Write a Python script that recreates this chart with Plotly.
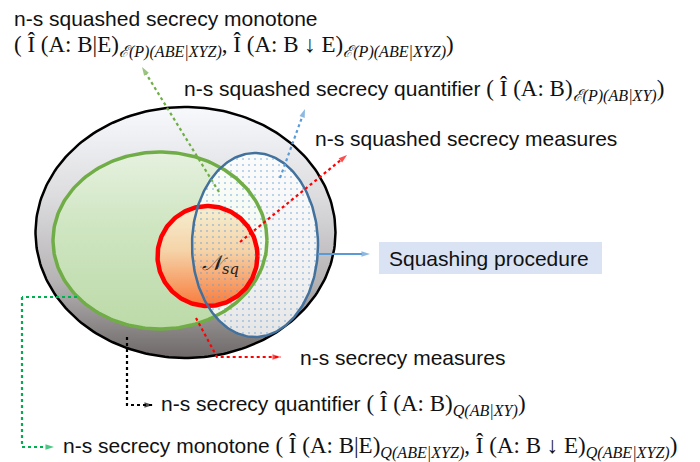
import numpy as np
import plotly.graph_objects as go

# ---- diagram content ----
region_names = ["outer", "green", "blue", "red"]
# centers / radii (pixel-like coordinates of the diagram canvas)
region_cx = [185.5, 160.0, 255.0, 207.5]
region_cy = [232.5, 240.5, 245.0, 256.0]
region_rx = [150.0, 107.0, 63.0, 50.0]
region_ry = [125.5, 88.5, 92.0, 50.0]

SANS = "Liberation Sans, Arial, sans-serif"
SERIF = "Liberation Serif, DejaVu Serif, serif"

def m(s):
    return f'<span style="font-family:{SERIF};font-size:23px">{s}</span>'

label_text = [
    "n-s squashed secrecy monotone",
    m("( Î (A: B|E)<sub><i>ℰ(P)(ABE|XYZ)</i></sub>, Î (A: B ↓ E)<sub><i>ℰ(P)(ABE|XYZ)</i></sub>)"),
    "n-s squashed secrecy quantifier " + m("( Î (A: B)<sub><i>ℰ(P)(AB|XY)</i></sub>)"),
    "n-s squashed secrecy measures",
    "n-s secrecy measures",
    "n-s secrecy quantifier " + m("( Î (A: B)<sub><i>Q(AB|XY)</i></sub>)"),
    "n-s secrecy monotone " + m("( Î (A: B|E)<sub><i>Q(ABE|XYZ)</i></sub>, Î (A: B ↓ E)<sub><i>Q(ABE|XYZ)</i></sub>)"),
]
label_x = [12, 12, 182, 313, 298, 159, 61]
label_y = [18, 46, 90, 138, 357, 405, 447]

box_text = "Squashing procedure"

fig = go.Figure()

def ellipse(i, n=240):
    t = np.linspace(0, 2 * np.pi, n)
    return region_cx[i] + region_rx[i] * np.cos(t), region_cy[i] + region_ry[i] * np.sin(t)

# outer ellipse
x, y = ellipse(0)
fig.add_trace(go.Scatter(x=x, y=y, mode="lines", fill="toself",
                         line=dict(color="black", width=2.5),
                         fillgradient=dict(type="vertical",
                                           colorscale=[[0, "#f7f9fd"], [0.35, "#dddddf"], [0.7, "#b5b2b3"], [1, "#6e6868"]],
                                           start=region_cy[0] - region_ry[0], stop=region_cy[0] + region_ry[0]),
                         hoverinfo="skip", showlegend=False))
# green fill
x, y = ellipse(1)
fig.add_trace(go.Scatter(x=x, y=y, mode="lines", fill="toself",
                         line=dict(color="rgba(0,0,0,0)", width=0),
                         fillgradient=dict(type="vertical",
                                           colorscale=[[0, "#e6f1df"], [0.4, "#d0e6c3"], [1, "#bcdaa8"]],
                                           start=region_cy[1] - region_ry[1], stop=region_cy[1] + region_ry[1]),
                         hoverinfo="skip", showlegend=False))
# blue translucent white fill
xb, yb = ellipse(2)
fig.add_trace(go.Scatter(x=xb, y=yb, mode="lines", fill="toself",
                         line=dict(color="rgba(0,0,0,0)", width=0),
                         fillcolor="rgba(255,255,255,0.8)",
                         hoverinfo="skip", showlegend=False))
# red fill
x, y = ellipse(3)
fig.add_trace(go.Scatter(x=x, y=y, mode="lines", fill="toself",
                         line=dict(color="rgba(0,0,0,0)", width=0),
                         fillgradient=dict(type="vertical",
                                           colorscale=[[0, "#f5efd2"], [0.45, "#f5d3a8"], [1, "#f87b3c"]],
                                           start=region_cy[3] - region_ry[3], stop=region_cy[3] + region_ry[3]),
                         hoverinfo="skip", showlegend=False))
# blue dots pattern
fig.add_trace(go.Scatter(x=xb, y=yb, mode="lines", fill="toself",
                         line=dict(color="rgba(0,0,0,0)", width=0),
                         fillcolor="rgba(0,0,0,0)",
                         fillpattern=dict(shape=".", fgcolor="#5b9bd5", bgcolor="rgba(0,0,0,0)",
                                          size=6, solidity=0.1, fillmode="overlay"),
                         hoverinfo="skip", showlegend=False))
# outlines
for i, col, w in [(1, "#70ad47", 3.5), (3, "#ff0000", 4.5), (2, "#41719c", 2.5)]:
    x, y = ellipse(i)
    fig.add_trace(go.Scatter(x=x, y=y, mode="lines", line=dict(color=col, width=w),
                             hoverinfo="skip", showlegend=False))

# arrows (dotted polylines with arrowheads)
arrows = [
    ([219, 142], [192, 67], "#70ad47", "dot"),
    ([280, 305], [178, 109], "#5b9bd5", "dot"),
    ([240, 347], [242, 155], "#ff0000", "dot"),
    ([196, 217, 281], [318, 357, 357], "#ff0000", "dot"),
    ([127, 127, 153], [337, 405, 405], "#000000", "dot"),
    ([77, 22, 22, 54], [297, 297, 447, 447], "#00b050", "dot"),
    ([318, 370], [254, 254], "#5b9bd5", "solid"),
]
for ax_, ay_, col, dash in arrows:
    n = len(ax_)
    fig.add_trace(go.Scatter(x=ax_, y=ay_, mode="lines+markers",
                             line=dict(color=col, width=2.2, dash=dash),
                             marker=dict(symbol="arrow", angleref="previous", color=col,
                                         size=[0] * (n - 1) + [9], line=dict(width=0)),
                             hoverinfo="skip", showlegend=False))

# squashing procedure box
fig.add_shape(type="rect", x0=379, x1=602, y0=242, y1=274, fillcolor="#dae3f3", line=dict(width=0), layer="above")
fig.add_annotation(x=387, y=258, text=box_text, showarrow=False, xanchor="left", yanchor="middle",
                   font=dict(family=SANS, size=21, color="#111111"))

# N_sq label
fig.add_annotation(x=220, y=264, text="<i>𝒩<sub>sq</sub></i>", showarrow=False,
                   font=dict(family="DejaVu Serif, serif", size=21, color="#222222"))

for t, lx, ly in zip(label_text, label_x, label_y):
    fig.add_annotation(x=lx, y=ly, text=t, showarrow=False, xanchor="left", yanchor="middle",
                       font=dict(family=SANS, size=21, color="#111111"))

fig.update_xaxes(range=[0, 700], visible=False, showgrid=False, zeroline=False)
fig.update_yaxes(range=[462, 0], visible=False, showgrid=False, zeroline=False)
fig.update_layout(width=700, height=462, margin=dict(l=0, r=0, t=0, b=0),
                  plot_bgcolor="white", paper_bgcolor="white")

fig.write_html("out.html", config={"displayModeBar": False},
               post_script="document.body.style.margin='0';document.body.style.overflow='hidden';")
